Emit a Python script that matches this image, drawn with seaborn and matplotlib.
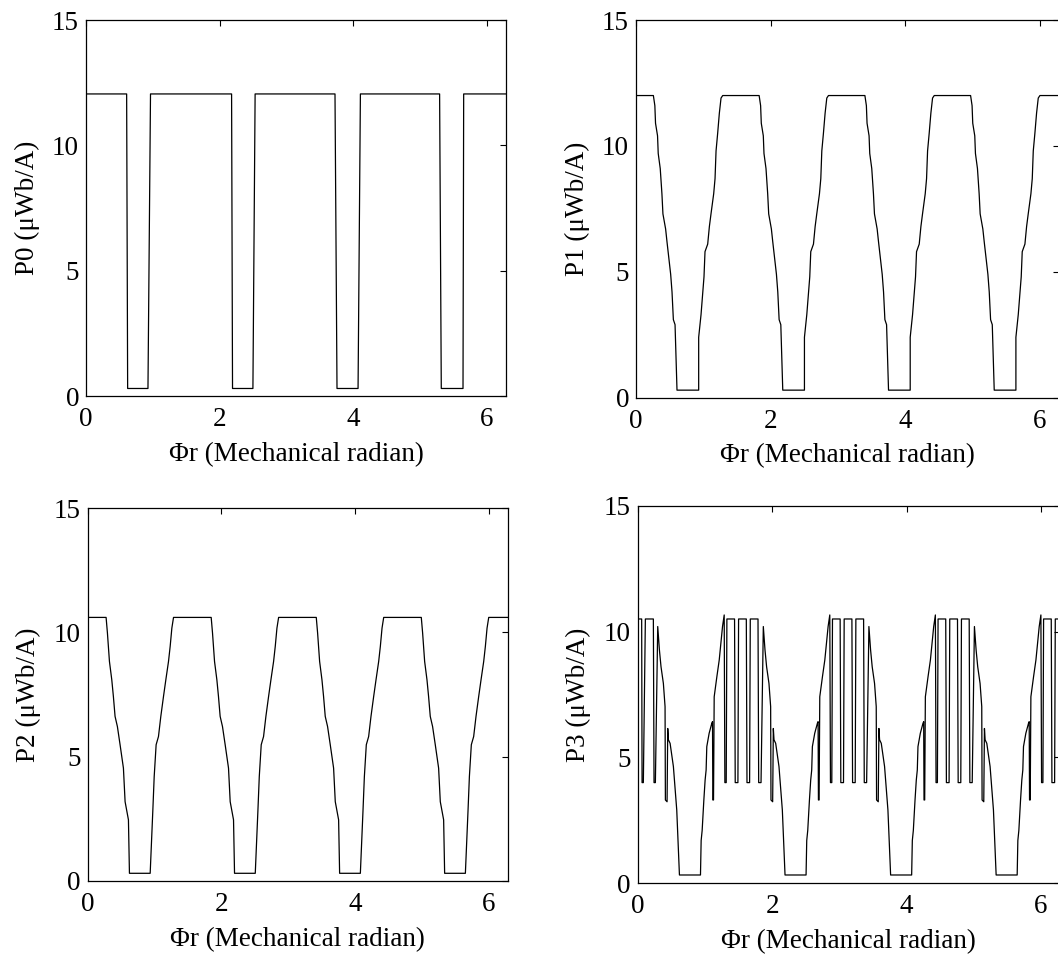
import numpy as np
import pandas as pd
import seaborn as sns
import matplotlib
matplotlib.use("Agg")
import matplotlib.pyplot as plt

# ---------------- data ----------------
p0_x = [0.0, 0.608, 0.623, 0.927, 0.965, 2.178, 2.192, 2.497, 2.530,
        3.725, 3.755, 4.070, 4.105, 5.290, 5.315, 5.640, 5.650, 6.2832]
p0_y = [12.05, 12.05, 0.3, 0.3, 12.05, 12.05, 0.3, 0.3, 12.05,
        12.05, 0.3, 0.3, 12.05, 12.05, 0.3, 0.3, 12.05, 12.05]

p1_x = [0.0,
        0.258, 0.280, 0.290, 0.320, 0.330, 0.360, 0.385, 0.400, 0.440, 0.460, 0.515, 0.535, 0.555, 0.580, 0.609,
        0.931, 0.931, 0.966, 1.010, 1.025, 1.065, 1.090, 1.114, 1.154, 1.174, 1.189, 1.213, 1.238, 1.263, 1.288,
        1.829, 1.851, 1.861, 1.891, 1.901, 1.931, 1.956, 1.971, 2.011, 2.031, 2.086, 2.106, 2.126, 2.151, 2.180,
        2.502, 2.502, 2.537, 2.581, 2.596, 2.636, 2.661, 2.685, 2.725, 2.745, 2.760, 2.784, 2.809, 2.834, 2.859,
        3.400, 3.422, 3.432, 3.462, 3.472, 3.502, 3.527, 3.542, 3.582, 3.602, 3.657, 3.677, 3.697, 3.722, 3.751,
        4.073, 4.073, 4.108, 4.152, 4.167, 4.207, 4.232, 4.256, 4.296, 4.316, 4.331, 4.355, 4.380, 4.405, 4.430,
        4.970, 4.992, 5.002, 5.032, 5.042, 5.072, 5.097, 5.112, 5.152, 5.172, 5.227, 5.247, 5.267, 5.292, 5.321,
        5.643, 5.643, 5.678, 5.722, 5.737, 5.777, 5.802, 5.826, 5.866, 5.886, 5.901, 5.925, 5.950, 5.975, 6.000,
        6.2832]
p1_y = [12.0,
        12.0, 11.6, 10.9, 10.4, 9.7, 9.1, 8.1, 7.3, 6.7, 6.2, 4.9, 4.2, 3.1, 2.9, 0.3,
        0.3, 2.4, 3.3, 4.8, 5.8, 6.1, 6.8, 7.3, 8.1, 8.7, 9.8, 10.5, 11.3, 11.9, 12.0,
        12.0, 11.6, 10.9, 10.4, 9.7, 9.1, 8.1, 7.3, 6.7, 6.2, 4.9, 4.2, 3.1, 2.9, 0.3,
        0.3, 2.4, 3.3, 4.8, 5.8, 6.1, 6.8, 7.3, 8.1, 8.7, 9.8, 10.5, 11.3, 11.9, 12.0,
        12.0, 11.6, 10.9, 10.4, 9.7, 9.1, 8.1, 7.3, 6.7, 6.2, 4.9, 4.2, 3.1, 2.9, 0.3,
        0.3, 2.4, 3.3, 4.8, 5.8, 6.1, 6.8, 7.3, 8.1, 8.7, 9.8, 10.5, 11.3, 11.9, 12.0,
        12.0, 11.6, 10.9, 10.4, 9.7, 9.1, 8.1, 7.3, 6.7, 6.2, 4.9, 4.2, 3.1, 2.9, 0.3,
        0.3, 2.4, 3.3, 4.8, 5.8, 6.1, 6.8, 7.3, 8.1, 8.7, 9.8, 10.5, 11.3, 11.9, 12.0,
        12.0]

p2_x = [0.0,
        0.275, 0.295, 0.325, 0.360, 0.384, 0.409, 0.444, 0.484, 0.534, 0.559, 0.609, 0.624,
        0.934, 0.974, 0.994, 1.023, 1.058, 1.093, 1.133, 1.168, 1.208, 1.233, 1.258, 1.283,
        1.846, 1.866, 1.896, 1.931, 1.955, 1.980, 2.015, 2.055, 2.105, 2.130, 2.180, 2.195,
        2.505, 2.545, 2.565, 2.594, 2.629, 2.664, 2.704, 2.739, 2.779, 2.804, 2.829, 2.854,
        3.417, 3.437, 3.467, 3.502, 3.526, 3.551, 3.586, 3.626, 3.676, 3.701, 3.751, 3.766,
        4.076, 4.116, 4.136, 4.165, 4.200, 4.235, 4.275, 4.310, 4.350, 4.375, 4.400, 4.425,
        4.987, 5.007, 5.037, 5.072, 5.096, 5.121, 5.156, 5.196, 5.246, 5.271, 5.321, 5.336,
        5.646, 5.686, 5.706, 5.735, 5.770, 5.805, 5.845, 5.880, 5.920, 5.945, 5.970, 5.995,
        6.2832]
p2_y = [10.6,
        10.6, 9.97, 8.83, 8.09, 7.42, 6.62, 6.21, 5.48, 4.54, 3.19, 2.46, 0.31,
        0.31, 2.86, 4.2, 5.48, 5.81, 6.62, 7.42, 8.09, 8.83, 9.44, 10.17, 10.6,
        10.6, 9.97, 8.83, 8.09, 7.42, 6.62, 6.21, 5.48, 4.54, 3.19, 2.46, 0.31,
        0.31, 2.86, 4.2, 5.48, 5.81, 6.62, 7.42, 8.09, 8.83, 9.44, 10.17, 10.6,
        10.6, 9.97, 8.83, 8.09, 7.42, 6.62, 6.21, 5.48, 4.54, 3.19, 2.46, 0.31,
        0.31, 2.86, 4.2, 5.48, 5.81, 6.62, 7.42, 8.09, 8.83, 9.44, 10.17, 10.6,
        10.6, 9.97, 8.83, 8.09, 7.42, 6.62, 6.21, 5.48, 4.54, 3.19, 2.46, 0.31,
        0.31, 2.86, 4.2, 5.48, 5.81, 6.62, 7.42, 8.09, 8.83, 9.44, 10.17, 10.6,
        10.6]

p3_x = [0.0, 0.059, 0.065, 0.084, 0.114, 0.233, 0.243, 0.263,
        # period 1
        0.298, 0.323, 0.347, 0.382, 0.407, 0.412, 0.437, 0.447, 0.457, 0.482, 0.531, 0.561, 0.581, 0.621,
        0.934,
        0.944, 0.959, 0.984, 1.003, 1.018, 1.028, 1.063, 1.103, 1.113, 1.118, 1.128, 1.138, 1.178, 1.213, 1.237, 1.262, 1.287,
        1.297, 1.317, 1.327, 1.441, 1.451, 1.491, 1.501, 1.616, 1.626, 1.665, 1.675, 1.790, 1.800, 1.835,
        # period 2
        1.869, 1.894, 1.918, 1.953, 1.978, 1.983, 2.008, 2.018, 2.028, 2.053, 2.102, 2.132, 2.152, 2.192,
        2.505,
        2.515, 2.530, 2.555, 2.574, 2.589, 2.599, 2.634, 2.674, 2.684, 2.689, 2.699, 2.709, 2.749, 2.784, 2.808, 2.833, 2.858,
        2.868, 2.888, 2.898, 3.012, 3.022, 3.062, 3.072, 3.187, 3.197, 3.236, 3.246, 3.361, 3.371, 3.406,
        # period 3
        3.440, 3.465, 3.489, 3.524, 3.549, 3.554, 3.579, 3.589, 3.599, 3.624, 3.673, 3.703, 3.723, 3.763,
        4.076,
        4.086, 4.101, 4.126, 4.145, 4.160, 4.170, 4.205, 4.245, 4.255, 4.260, 4.270, 4.280, 4.320, 4.355, 4.379, 4.404, 4.429,
        4.439, 4.459, 4.469, 4.583, 4.593, 4.633, 4.643, 4.758, 4.768, 4.807, 4.817, 4.932, 4.942, 4.977,
        # period 4
        5.010, 5.035, 5.059, 5.094, 5.119, 5.124, 5.149, 5.159, 5.169, 5.194, 5.243, 5.273, 5.293, 5.333,
        5.646,
        5.656, 5.671, 5.696, 5.715, 5.730, 5.740, 5.775, 5.815, 5.825, 5.830, 5.840, 5.850, 5.890, 5.925, 5.949, 5.974, 5.999,
        6.009, 6.029, 6.039, 6.153, 6.163, 6.203, 6.213, 6.2832]
p3_y = [10.5, 10.5, 4.0, 4.0, 10.5, 10.5, 4.0, 4.0,
        10.2, 9.27, 8.6, 7.94, 7.02, 3.31, 3.24, 6.15, 5.7, 5.56, 4.64, 3.58, 2.91, 0.33,
        0.33,
        1.7, 2.1, 3.3, 4.1, 4.5, 5.43, 5.96, 6.36, 6.42, 3.31, 3.31, 7.41, 8.21, 8.87, 9.53, 10.2, 10.66,
        4.0, 4.0, 10.5, 10.5, 4.0, 4.0, 10.5, 10.5, 4.0, 4.0, 10.5, 10.5, 4.0, 4.0,
        10.2, 9.27, 8.6, 7.94, 7.02, 3.31, 3.24, 6.15, 5.7, 5.56, 4.64, 3.58, 2.91, 0.33,
        0.33,
        1.7, 2.1, 3.3, 4.1, 4.5, 5.43, 5.96, 6.36, 6.42, 3.31, 3.31, 7.41, 8.21, 8.87, 9.53, 10.2, 10.66,
        4.0, 4.0, 10.5, 10.5, 4.0, 4.0, 10.5, 10.5, 4.0, 4.0, 10.5, 10.5, 4.0, 4.0,
        10.2, 9.27, 8.6, 7.94, 7.02, 3.31, 3.24, 6.15, 5.7, 5.56, 4.64, 3.58, 2.91, 0.33,
        0.33,
        1.7, 2.1, 3.3, 4.1, 4.5, 5.43, 5.96, 6.36, 6.42, 3.31, 3.31, 7.41, 8.21, 8.87, 9.53, 10.2, 10.66,
        4.0, 4.0, 10.5, 10.5, 4.0, 4.0, 10.5, 10.5, 4.0, 4.0, 10.5, 10.5, 4.0, 4.0,
        10.2, 9.27, 8.6, 7.94, 7.02, 3.31, 3.24, 6.15, 5.7, 5.56, 4.64, 3.58, 2.91, 0.33,
        0.33,
        1.7, 2.1, 3.3, 4.1, 4.5, 5.43, 5.96, 6.36, 6.42, 3.31, 3.31, 7.41, 8.21, 8.87, 9.53, 10.2, 10.66,
        4.0, 4.0, 10.5, 10.5, 4.0, 4.0, 10.5, 10.5]

y_labels = ["P0 (\u03bcWb/A)", "P1 (\u03bcWb/A)", "P2 (\u03bcWb/A)", "P3 (\u03bcWb/A)"]
x_label = "\u03a6r (Mechanical radian)"
x_ticks = [0, 2, 4, 6]
y_ticks = [0, 5, 10, 15]

# ---------------- style ----------------
sns.set_theme(style="white")
plt.rcParams["font.family"] = ["Liberation Serif", "DejaVu Serif"]
FS = 19.5

fig = plt.figure(figsize=(10.58, 9.58), dpi=100)
W, H = 1058.0, 958.0
# (left, top, right, bottom) in pixels
boxes = [(86, 20, 506, 396), (636, 20, 1059, 397.7),
         (87.7, 508, 508, 881), (637.7, 505.7, 1060, 883.3)]
series = [(p0_x, p0_y), (p1_x, p1_y), (p2_x, p2_y), (p3_x, p3_y)]

for (l, t, r, b), (xs, ys), ylab in zip(boxes, series, y_labels):
    ax = fig.add_axes([l / W, 1 - b / H, (r - l) / W, (b - t) / H])
    df = pd.DataFrame({"x": xs, "y": ys})
    sns.lineplot(data=df, x="x", y="y", sort=False, estimator=None,
                 color="black", linewidth=0.9, ax=ax)
    ax.set_xlim(0, 2 * np.pi)
    ax.set_ylim(0, 15)
    ax.set_xticks(x_ticks)
    ax.set_yticks(y_ticks)
    ax.tick_params(direction="in", length=4, width=0.8, top=True, right=True,
                   labelsize=FS, colors="black")
    ax.tick_params(axis="x", pad=8)
    ax.tick_params(axis="y", pad=5)
    for s in ax.spines.values():
        s.set_visible(True)
        s.set_color("black")
        s.set_linewidth(0.9)
    ax.set_xlabel(x_label, fontsize=FS, color="black", labelpad=7)
    ax.set_ylabel(ylab, fontsize=FS, color="black", labelpad=9)
    ax.set_facecolor("white")
    ax.grid(False)

fig.patch.set_facecolor("white")
fig.savefig("out.png", dpi=100, facecolor="white")
